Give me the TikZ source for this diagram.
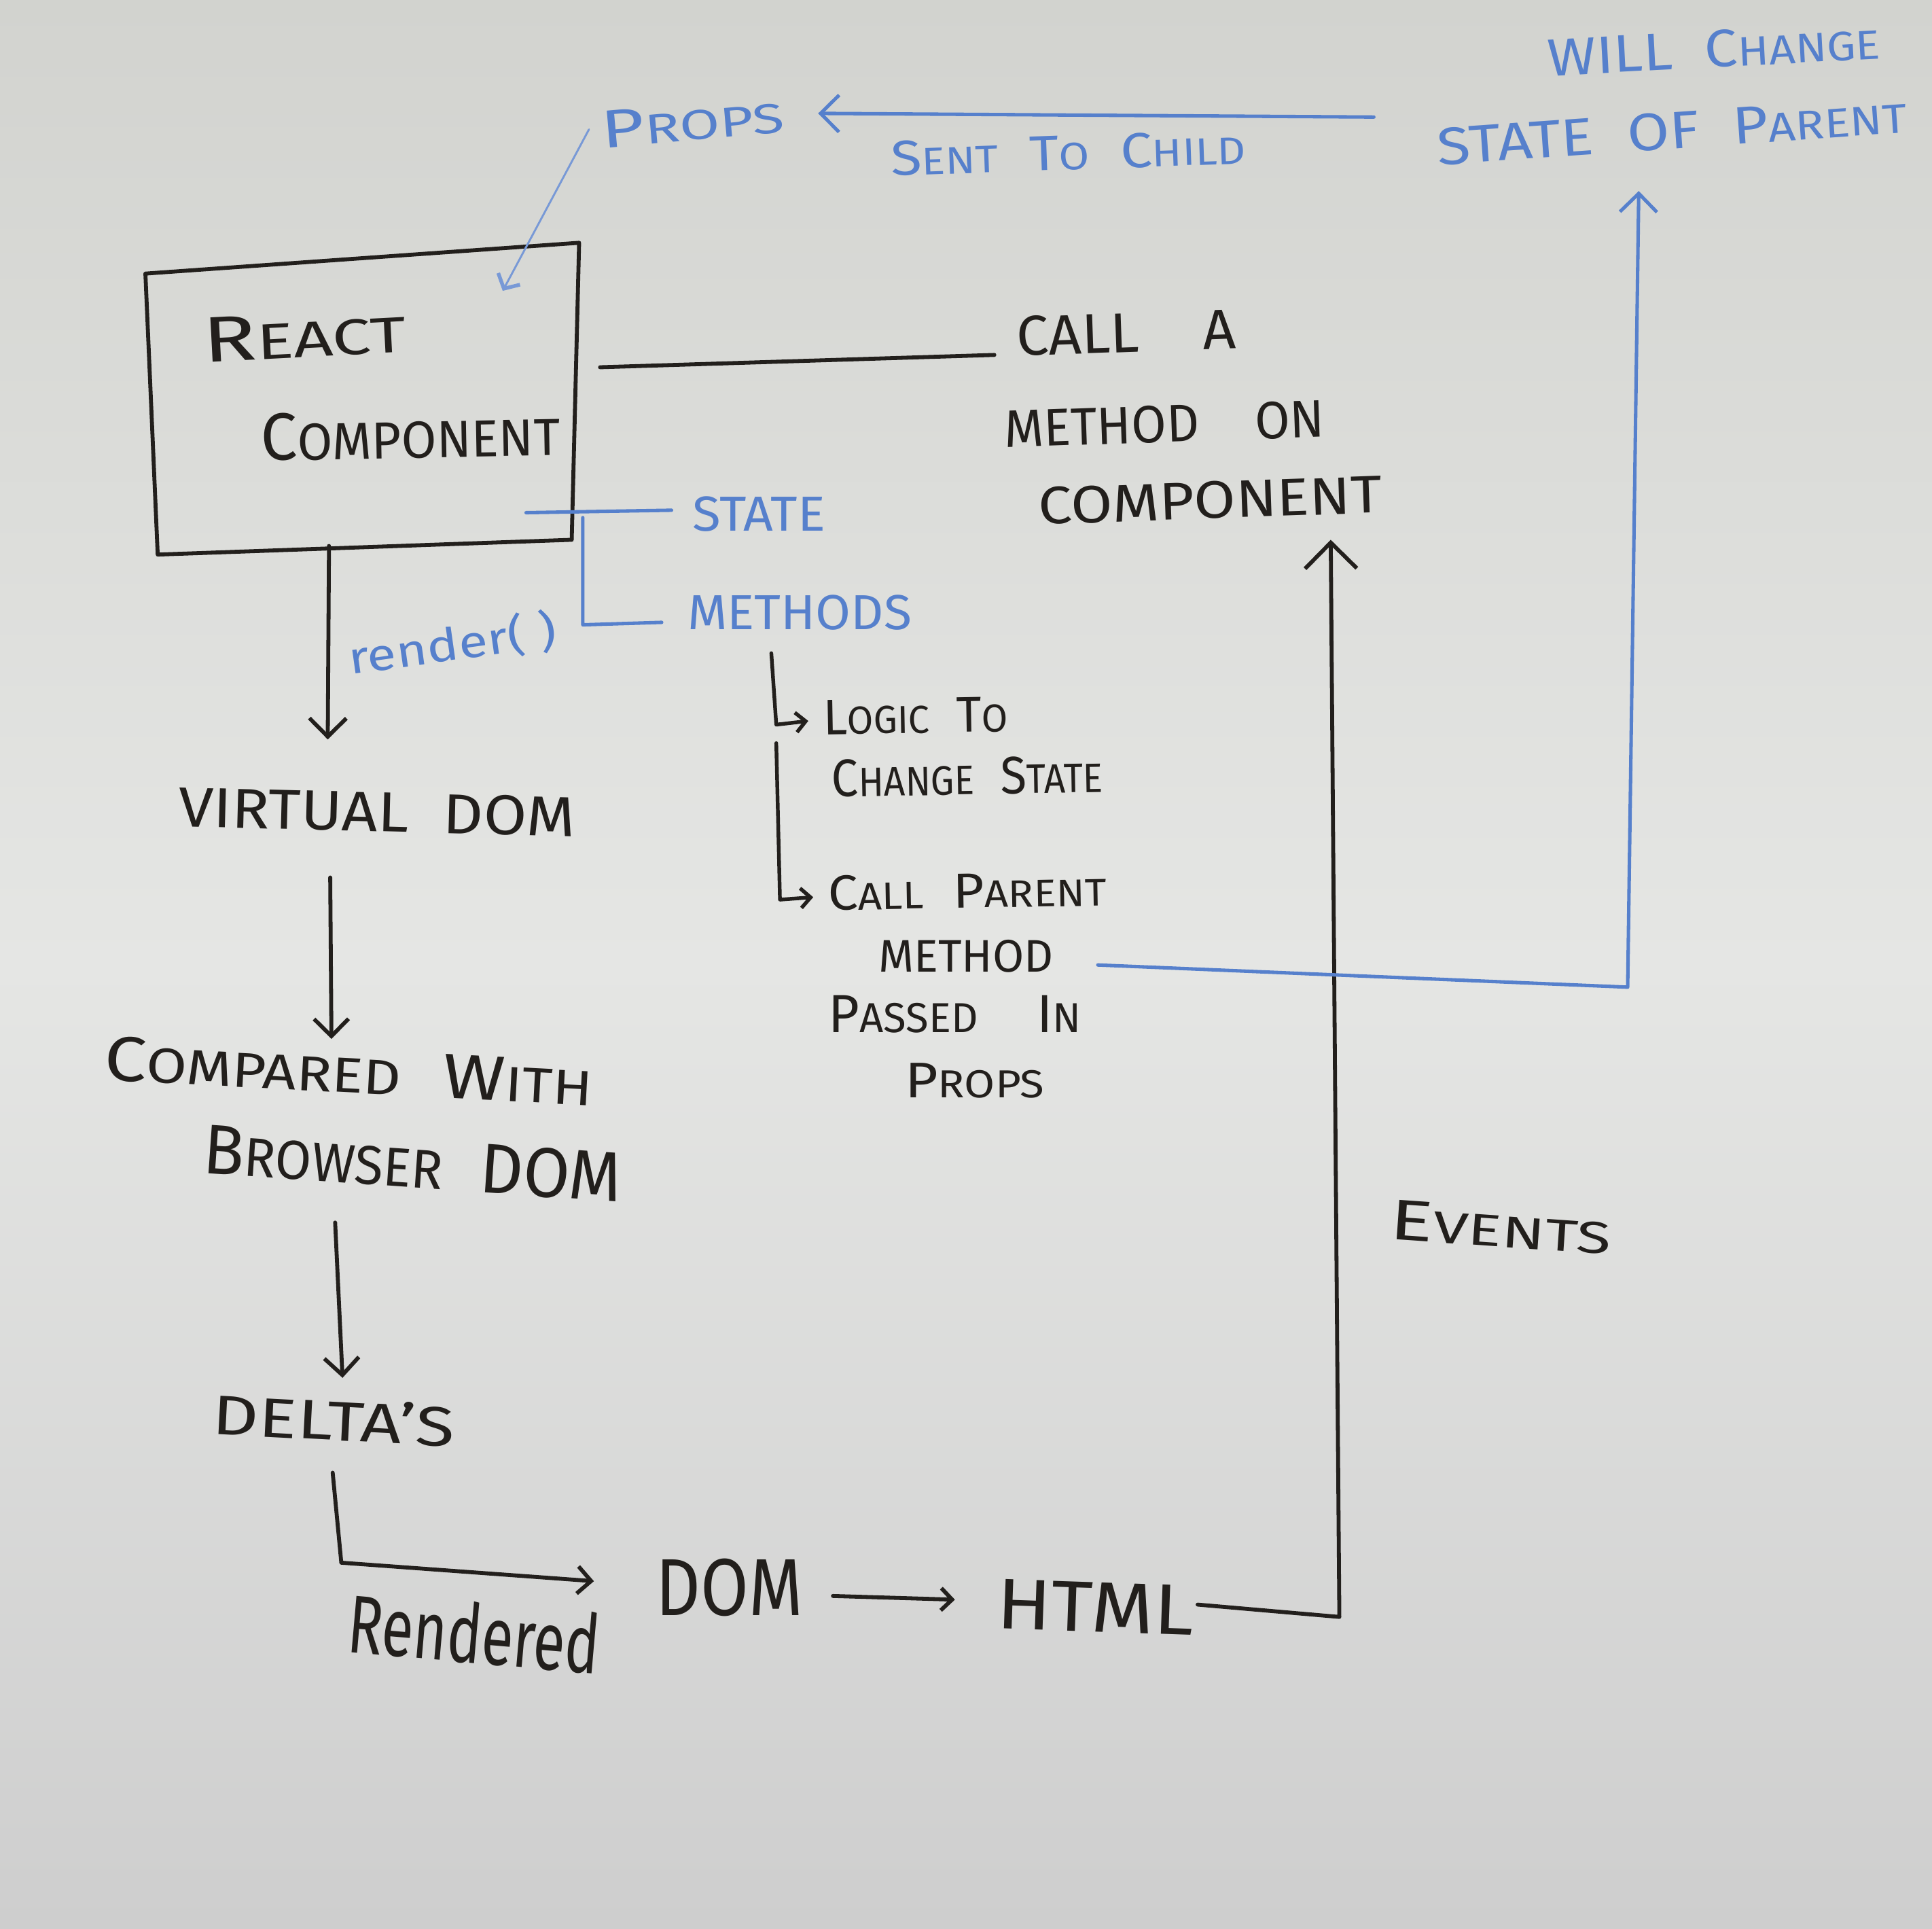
\documentclass[tikz,border=0pt]{standalone}
\usepackage{fontspec}
\setmainfont{Fira Sans}
\usepackage{graphicx}
\usetikzlibrary{arrows.meta}
\definecolor{ink}{RGB}{34,31,28}
\definecolor{bink}{RGB}{86,128,204}
\definecolor{wbtop}{RGB}{210,211,207}
\definecolor{wbmid}{RGB}{229,230,228}
\definecolor{wbbot}{RGB}{206,206,206}
\newcommand{\hw}[3]{\resizebox{#1pt}{#2pt}{#3}}
\newcommand{\fsc}[2]{#1\scalebox{0.78}{#2}}
\newcommand{\gap}{\hspace{0.55em}}
\begin{document}
\begin{tikzpicture}[x=1pt,y=-1pt,
  txt/.style={inner sep=0pt, outer sep=0pt, anchor=center, text=ink},
  btxt/.style={txt, text=bink},
  inkline/.style={draw=ink, line width=3.2pt, line cap=round, line join=round},
  blueline/.style={draw=bink, line width=2.8pt, line cap=round, line join=round},
  thinblue/.style={draw=bink!80, line width=1.6pt, line cap=round},
  barb/.style={-{Straight Barb[length=#1*0.5pt, width=#1*1pt]}},
]
\useasboundingbox (0,0) rectangle (1568,1565);
\shade[top color=wbtop, bottom color=wbbot, middle color=wbmid] (0,0) rectangle (1568,1565);

% ---------- box ----------
\coordinate (bxTL) at (118,222);
\coordinate (bxTR) at (470,197);
\coordinate (bxBR) at (464,438);
\coordinate (bxBL) at (128,450);
\draw[inkline] (bxTL) -- (bxTR) -- (bxBR) -- (bxBL) -- cycle;
\node[txt, rotate=3] (react) at (247,272) {\hw{165}{36}{\fsc{R}{EACT}}};
\node[txt, rotate=1] (comp) at (333,353) {\hw{243}{38}{\fsc{C}{OMPONENT}}};

% ---------- blue top texts ----------
\node[btxt, rotate=5] (props) at (562,99) {\hw{148}{30}{\fsc{P}{ROPS}}};
\node[btxt, rotate=2] (sent) at (867,124) {\hw{288}{28}{\fsc{S}{ENT}\gap\fsc{T}{O}\gap\fsc{C}{HILD}}};
\node[btxt, rotate=3] (will) at (1391,40) {\hw{270}{30}{WILL\gap\fsc{C}{HANGE}}};
\node[btxt, rotate=4] (stpar) at (1357,106) {\hw{382}{30}{STATE\gap OF\gap\fsc{P}{ARENT}}};

% ---------- right texts ----------
\node[txt, rotate=2] (calla) at (914,270) {\hw{178}{32}{CALL\gap\gap A}};
\node[txt, rotate=2] (methon) at (945,344) {\hw{260}{30}{METHOD\gap\gap ON}};
\node[txt, rotate=2] (comp2) at (982,406) {\hw{279}{30}{COMPONENT}};

\node[btxt] (state) at (616,417) {\hw{108}{28}{STATE}};
\node[btxt] (methods) at (649,497) {\hw{182}{28}{METHODS}};

\node[txt, rotate=1] (logic) at (743,581) {\hw{150}{28}{\fsc{L}{OGIC}\gap\fsc{T}{O}}};
\node[txt, rotate=1] (chst) at (785,630) {\hw{220}{30}{\fsc{C}{HANGE}\gap\fsc{S}{TATE}}};
\node[txt, rotate=1] (callp) at (785,723) {\hw{226}{28}{\fsc{C}{ALL}\gap\fsc{P}{ARENT}}};
\node[txt] (meth2) at (784,776) {\hw{142}{26}{METHOD}};
\node[txt] (passed) at (775,823) {\hw{205}{30}{\fsc{P}{ASSED}\gap\gap\fsc{I}{N}}};
\node[txt] (props2) at (791,877) {\hw{113}{28}{\fsc{P}{ROPS}}};

\node[txt, rotate=-4] (events) at (1218,996) {\hw{180}{32}{\fsc{E}{VENTS}}};

% ---------- left column ----------
\node[btxt, rotate=8] (render) at (367,523) {\resizebox*{170pt}{36pt}{render( )}};
\node[txt, rotate=-1.5] (vdom) at (306,659) {\hw{322}{32}{VIRTUAL\gap DOM}};
\node[txt, rotate=-3] (cmpw) at (283,869) {\hw{397}{36}{\fsc{C}{OMPARED}\gap\fsc{W}{ITH}}};
\node[txt, rotate=-4] (bdom) at (335,944) {\hw{340}{40}{\fsc{B}{ROWSER}\gap DOM}};
\node[txt, rotate=-3] (delta) at (271,1152) {\hw{197}{34}{DELTA'S}};
\node[txt, rotate=-5] (rendered) at (385,1325) {\hw{205}{50}{Rendered}};
\node[txt] (dom) at (592,1288) {\hw{119}{46}{DOM}};
\node[txt, rotate=-2] (html) at (889,1304) {\hw{160}{40}{HTML}};

% ---------- black connectors ----------
\coordinate (callL) at (487,298);
\coordinate (callR) at (807,288);
\draw[inkline] (callL) -- (callR);

\coordinate (rA) at (267,443);
\coordinate (rB) at (266,600);
\draw[inkline, barb=30] (rA) -- (rB);

\coordinate (vA) at (268,712);
\coordinate (vB) at (269,843);
\draw[inkline, barb=28] (vA) -- (vB);

\coordinate (bA) at (272,992);
\coordinate (bB) at (278,1118);
\draw[inkline, barb=28] (bA) -- (bB);

\coordinate (dA) at (270,1195);
\coordinate (dK) at (277,1268);
\coordinate (dB) at (482,1283);
\draw[inkline, barb=22] (dA) -- (dK) -- (dB);

\coordinate (hA) at (676,1295);
\coordinate (hB) at (775,1298);
\draw[inkline, barb=18] (hA) -- (hB);

\coordinate (eA) at (972,1302);
\coordinate (eK) at (1087,1312);
\coordinate (eB) at (1080,438);
\draw[inkline, barb=42] (eA) -- (eK) -- (eB);

\coordinate (mA) at (626,530);
\coordinate (mK) at (630,588);
\coordinate (mB) at (656,585);
\draw[inkline, line width=3pt, barb=16] (mA) -- (mK) -- (mB);
\coordinate (nA) at (630,603);
\coordinate (nK) at (633,730);
\coordinate (nB) at (660,728);
\draw[inkline, line width=3pt, barb=16] (nA) -- (nK) -- (nB);

% ---------- blue connectors ----------
\coordinate (pA) at (478,105);
\coordinate (pB) at (408,236);
\draw[thinblue, -{Straight Barb[length=9pt, width=20pt, line width=3pt]}] (pA) -- (pB);

\coordinate (sA) at (1115,95);
\coordinate (sB) at (664,92);
\draw[blueline, barb=30] (sA) -- (sB);

\coordinate (stA) at (427,416);
\coordinate (stB) at (545,414);
\draw[blueline] (stA) -- (stB);

\coordinate (mtA) at (473,420);
\coordinate (mtK) at (473,507);
\coordinate (mtB) at (537,505);
\draw[blueline] (mtA) -- (mtK) -- (mtB);

\coordinate (cpA) at (891,783);
\coordinate (cpK) at (1321,801);
\coordinate (cpB) at (1330,155);
\draw[blueline, barb=30] (cpA) -- (cpK) -- (cpB);
\end{tikzpicture}
\end{document}
